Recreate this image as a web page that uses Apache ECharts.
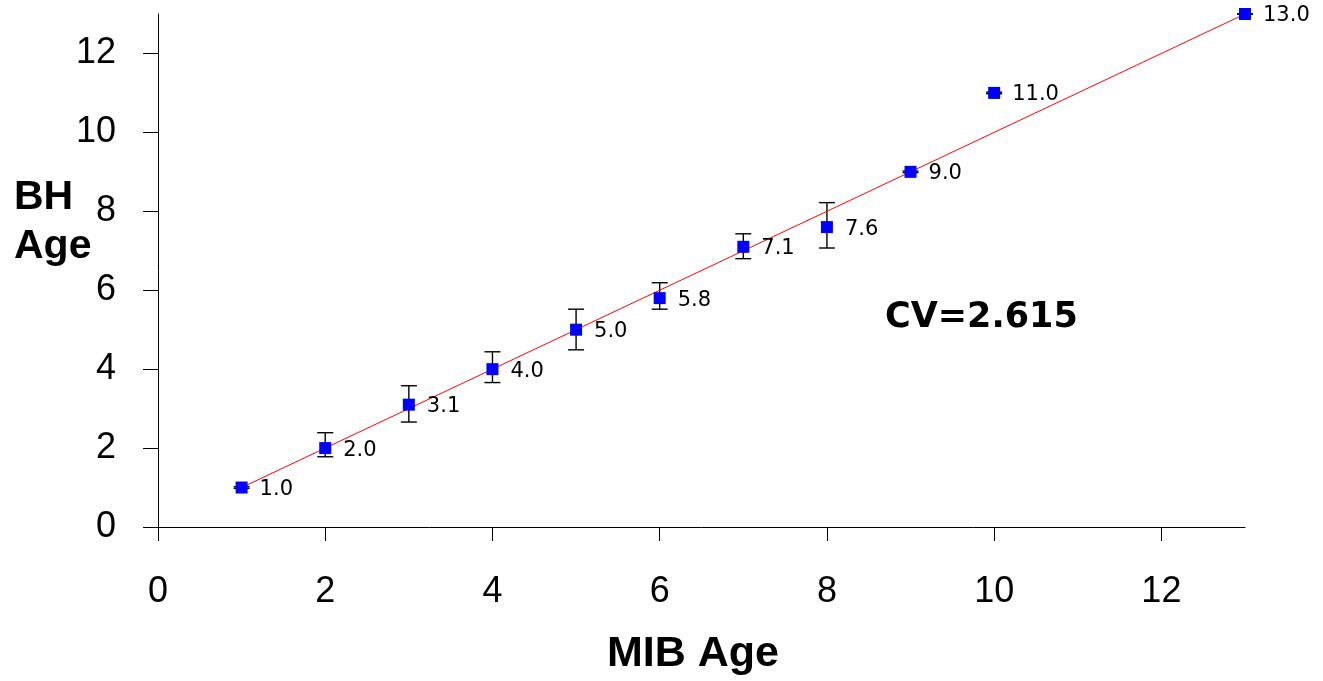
<!DOCTYPE html>
<html>
<head>
<meta charset="utf-8">
<title>BH Age vs MIB Age</title>
<script src="https://cdn.jsdelivr.net/npm/echarts@6/dist/echarts.min.js"></script>
<style>
  html, body { margin: 0; padding: 0; background: #ffffff; }
  #chart { width: 1323px; height: 681px; }
</style>
</head>
<body>
<div id="chart"></div>
<script>
// Mean BH age for each MIB age class, with the spread of readings
const mibAge   = [1, 2, 3, 4, 5, 6, 7, 8, 9, 10, 13];
const bhAge    = [1.0, 2.0, 3.1, 4.0, 5.0, 5.8, 7.1, 7.6, 9.0, 11.0, 13.0];
const errLow   = [0.98, 1.78, 2.66, 3.66, 4.49, 5.52, 6.80, 7.07, 8.98, 10.98, 13.0];
const errHigh  = [1.02, 2.39, 3.58, 4.44, 5.52, 6.19, 7.43, 8.22, 9.02, 11.02, 13.0];

// 1:1 reference line
const fitX = [1, 13];
const fitY = [1, 13];

// Axis ticks
const xTicks = [0, 2, 4, 6, 8, 10, 12];
const yTicks = [0, 2, 4, 6, 8, 10, 12];

const cvText = 'CV=2.615';

const chart = echarts.init(document.getElementById('chart'), null, { renderer: 'canvas' });

const tickFont = { fontFamily: 'Liberation Sans, Arial, sans-serif', fontSize: 36, color: '#000000' };
const titleFont = 'bold 41px "Liberation Sans", Arial, sans-serif';

const option = {
  animation: false,
  backgroundColor: '#ffffff',
  grid: { left: 158, right: 78, top: 14, bottom: 154, containLabel: false },
  xAxis: {
    type: 'value',
    min: 0,
    max: 13,
    interval: 1,
    splitLine: { show: false },
    axisLine: { show: true, onZero: false, lineStyle: { color: '#000000', width: 1 } },
    axisTick: { show: true, inside: false, length: 14, customValues: xTicks, lineStyle: { color: '#000000', width: 1 } },
    axisLabel: Object.assign({ margin: 47, customValues: xTicks }, tickFont)
  },
  yAxis: {
    type: 'value',
    min: 0,
    max: 13,
    interval: 1,
    splitLine: { show: false },
    axisLine: { show: true, onZero: false, lineStyle: { color: '#000000', width: 1 } },
    axisTick: { show: true, inside: false, length: 15, customValues: yTicks, lineStyle: { color: '#000000', width: 1 } },
    axisLabel: Object.assign({ margin: 42, customValues: yTicks }, tickFont)
  },
  graphic: [
    { type: 'text', left: 14, top: 177, style: { text: 'BH', font: titleFont, fill: '#000000' } },
    { type: 'text', left: 14, top: 226, style: { text: 'Age', font: titleFont, fill: '#000000' } },
    { type: 'text', left: 607, top: 633, style: { text: 'MIB Age', font: 'bold 43px "Liberation Sans", Arial, sans-serif', fill: '#000000' } },
    { type: 'text', left: 885, top: 300, style: { text: cvText, font: 'bold 35px "DejaVu Sans", sans-serif', fill: '#000000' } }
  ],
  series: [
    {
      // error bars with caps
      type: 'custom',
      z: 2,
      data: mibAge.map((x, i) => [x, errLow[i], errHigh[i]]),
      renderItem: function (params, api) {
        const x = api.value(0);
        const lo = api.coord([x, api.value(1)]);
        const hi = api.coord([x, api.value(2)]);
        const half = 8;
        const style = { stroke: '#000000', lineWidth: 1.4 };
        return {
          type: 'group',
          children: [
            { type: 'line', shape: { x1: lo[0], y1: lo[1], x2: hi[0], y2: hi[1] }, style: style },
            { type: 'line', shape: { x1: hi[0] - half, y1: hi[1], x2: hi[0] + half, y2: hi[1] }, style: style },
            { type: 'line', shape: { x1: lo[0] - half, y1: lo[1], x2: lo[0] + half, y2: lo[1] }, style: style }
          ]
        };
      }
    },
    {
      type: 'line',
      z: 3,
      data: fitX.map((x, i) => [x, fitY[i]]),
      showSymbol: false,
      symbol: 'none',
      lineStyle: { color: '#ff0000', width: 1 }
    },
    {
      type: 'scatter',
      z: 4,
      data: mibAge.map((x, i) => [x, bhAge[i]]),
      symbol: 'rect',
      symbolSize: 12,
      itemStyle: { color: '#0000ff', opacity: 1 },
      label: {
        show: true,
        position: 'right',
        distance: 12,
        offset: [0, 2],
        fontFamily: 'DejaVu Sans, sans-serif',
        fontWeight: 'normal',
        fontSize: 21,
        color: '#000000',
        formatter: p => p.value[1].toFixed(1)
      }
    }
  ]
};

chart.setOption(option);
</script>
</body>
</html>
